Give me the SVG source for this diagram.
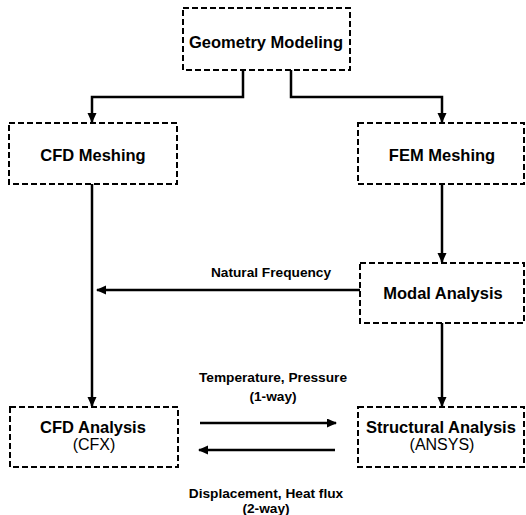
<svg xmlns="http://www.w3.org/2000/svg" width="526" height="515" viewBox="0 0 526 515">
<style>
.box{fill:none;stroke:#000;stroke-width:2;stroke-dasharray:6,3}
.t{font-family:"Liberation Sans",Arial,sans-serif;font-weight:bold;font-size:16.5px;text-anchor:middle;fill:#000}
.s{font-family:"Liberation Sans",Arial,sans-serif;font-weight:bold;font-size:13.7px;text-anchor:middle;fill:#000}
.n{font-family:"Liberation Sans",Arial,sans-serif;font-size:16px;text-anchor:middle;fill:#000}
.c{fill:none;stroke:#000;stroke-width:2.5}
</style>
<defs>
<marker id="ah" markerWidth="10" markerHeight="10" refX="9" refY="4.5" orient="auto" markerUnits="userSpaceOnUse">
<path d="M0,0 L10,4.5 L0,9 z" fill="#000"/>
</marker>
</defs>
<rect width="526" height="515" fill="#fff"/>
<g id="connectors">
<path class="c" d="M243,70 V97 H92 V122" marker-end="url(#ah)"/>
<path class="c" d="M291,70 V97 H442 V122" marker-end="url(#ah)"/>
<path class="c" d="M92,184 V406" marker-end="url(#ah)"/>
<path class="c" d="M442,184 V262" marker-end="url(#ah)"/>
<path class="c" d="M442,323 V406" marker-end="url(#ah)"/>
<path class="c" d="M360,290 H97" marker-end="url(#ah)"/>
<path class="c" d="M200,423 H336" marker-end="url(#ah)"/>
<path class="c" d="M335,450 H199" marker-end="url(#ah)"/>
<text class="s" x="271" y="277">Natural Frequency</text>
<text class="s" x="273" y="382">Temperature, Pressure</text>
<text class="s" x="273" y="401">(1-way)</text>
<text class="s" x="266" y="498">Displacement, Heat flux</text>
<text class="s" x="266" y="513">(2-way)</text>
</g>
<g id="geometry">
<rect class="box" x="183" y="8" width="167" height="62"/>
<text class="t" x="266" y="48">Geometry Modeling</text>
</g>
<g id="cfdmesh">
<rect class="box" x="9" y="123" width="168" height="61"/>
<text class="t" x="93" y="161">CFD Meshing</text>
</g>
<g id="femmesh">
<rect class="box" x="358" y="123" width="166" height="61"/>
<text class="t" x="442" y="161">FEM Meshing</text>
</g>
<g id="modal">
<rect class="box" x="360" y="263" width="164" height="60"/>
<text class="t" x="443" y="299">Modal Analysis</text>
</g>
<g id="cfdanalysis">
<rect class="box" x="10" y="407" width="168" height="60"/>
<text class="t" x="93" y="433">CFD Analysis</text>
<text class="n" x="94" y="450">(CFX)</text>
</g>
<g id="structural">
<rect class="box" x="358" y="407" width="166" height="60"/>
<text class="t" x="441" y="433">Structural Analysis</text>
<text class="n" x="442" y="450">(ANSYS)</text>
</g>
</svg>
